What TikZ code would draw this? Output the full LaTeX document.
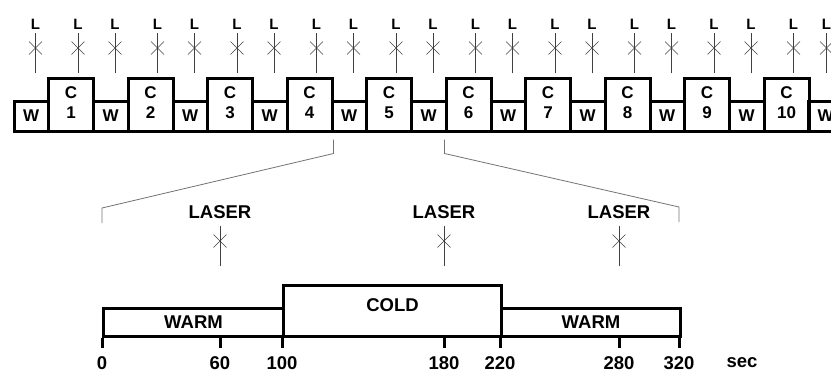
\documentclass[tikz,border=0pt]{standalone}
\usepackage{fontspec}
\setmainfont{Liberation Sans}
\usetikzlibrary{positioning}
\tikzset{
  wbox/.style={draw,line width=3pt,minimum width=34.5pt,minimum height=30pt,inner sep=0pt,anchor=south west,font=\fontsize{17}{20}\selectfont\bfseries},
  cbox/.style={wbox,minimum width=45pt,minimum height=53pt,align=center,text depth=4pt},
  tbox/.style={draw,line width=3pt,inner sep=0pt,anchor=south west,font=\fontsize{18.5}{18.5}\selectfont\bfseries},
  lbl/.style={inner sep=0pt,font=\fontsize{15}{15}\selectfont\bfseries},
  tlbl/.style={inner sep=0pt,font=\fontsize{18.5}{18.5}\selectfont\bfseries},
  zoomln/.style={draw=black!55,line width=0.8pt},
  lsr/.style={line width=0.9pt,black!75},
  lasermark/.pic={
    \draw[lsr] (0,0) -- (0,40);
    \draw[lsr,line width=0.5pt] (-6.5,8.5) -- (6.5,21.5) (-6.5,21.5) -- (6.5,8.5);
  },
}
\begin{document}
\begin{tikzpicture}[x=1pt,y=-1pt]
 \useasboundingbox (0,0) rectangle (831,373);
 \foreach \i in {1,...,10}{
  \pgfmathsetmacro\xc{47+(\i-1)*79.5}
  \node[wbox] (w\i) at (\xc-34.5,132.5) {W};
  \node[cbox] (c\i) at (\xc,132.5) {C\\\i};
  \node[lbl] (lw\i) at (\xc-11.5,24) {L};
  \node[lbl] (lc\i) at (\xc+31,24) {L};
  \pic at (\xc-11.5,33) {lasermark};
  \pic at (\xc+31,33) {lasermark};
 }
 \node[wbox] (w11) at (807,132.5) {W};
 \node[lbl] (lw11) at (826.5,24) {L};
 \pic at (826.5,33) {lasermark};

 \coordinate (bl) at (102,208);
 \coordinate (br) at (679,207);
 \draw[zoomln] ([yshift=-7pt]c4.south east) -- ++(0,14) -- (bl) -- ++(0,15);
 \draw[zoomln] ([yshift=-7pt]c6.south west) -- ++(0,14) -- (br) -- ++(0,15);

 \node[tbox,minimum width=180pt,minimum height=28pt] (warm1) at (102,338) {WARM};
 \node[tbox,minimum width=218pt,minimum height=51pt,text depth=11pt] (cold) at (282,338) {COLD};
 \node[tbox,minimum width=179pt,minimum height=28pt] (warm2) at (500,338) {WARM};

 \foreach \x/\t in {102/0,220/60,282/100,444/180,500/220,619/280,679/320}{
  \coordinate (k\t) at (\x,338);
  \draw[line width=3pt] (k\t) -- ++(0,9.5);
  \node[tlbl] (n\t) at (\x,363) {\t};
 }
 \node[tlbl] (sec) at (742,363) {sec};

 \foreach \x/\n in {220/a,444/b,619/c}{
  \node[tlbl] (laser\n) at (\x,212) {LASER};
  \pic at (\x,226) {lasermark};
 }
\end{tikzpicture}
\end{document}
